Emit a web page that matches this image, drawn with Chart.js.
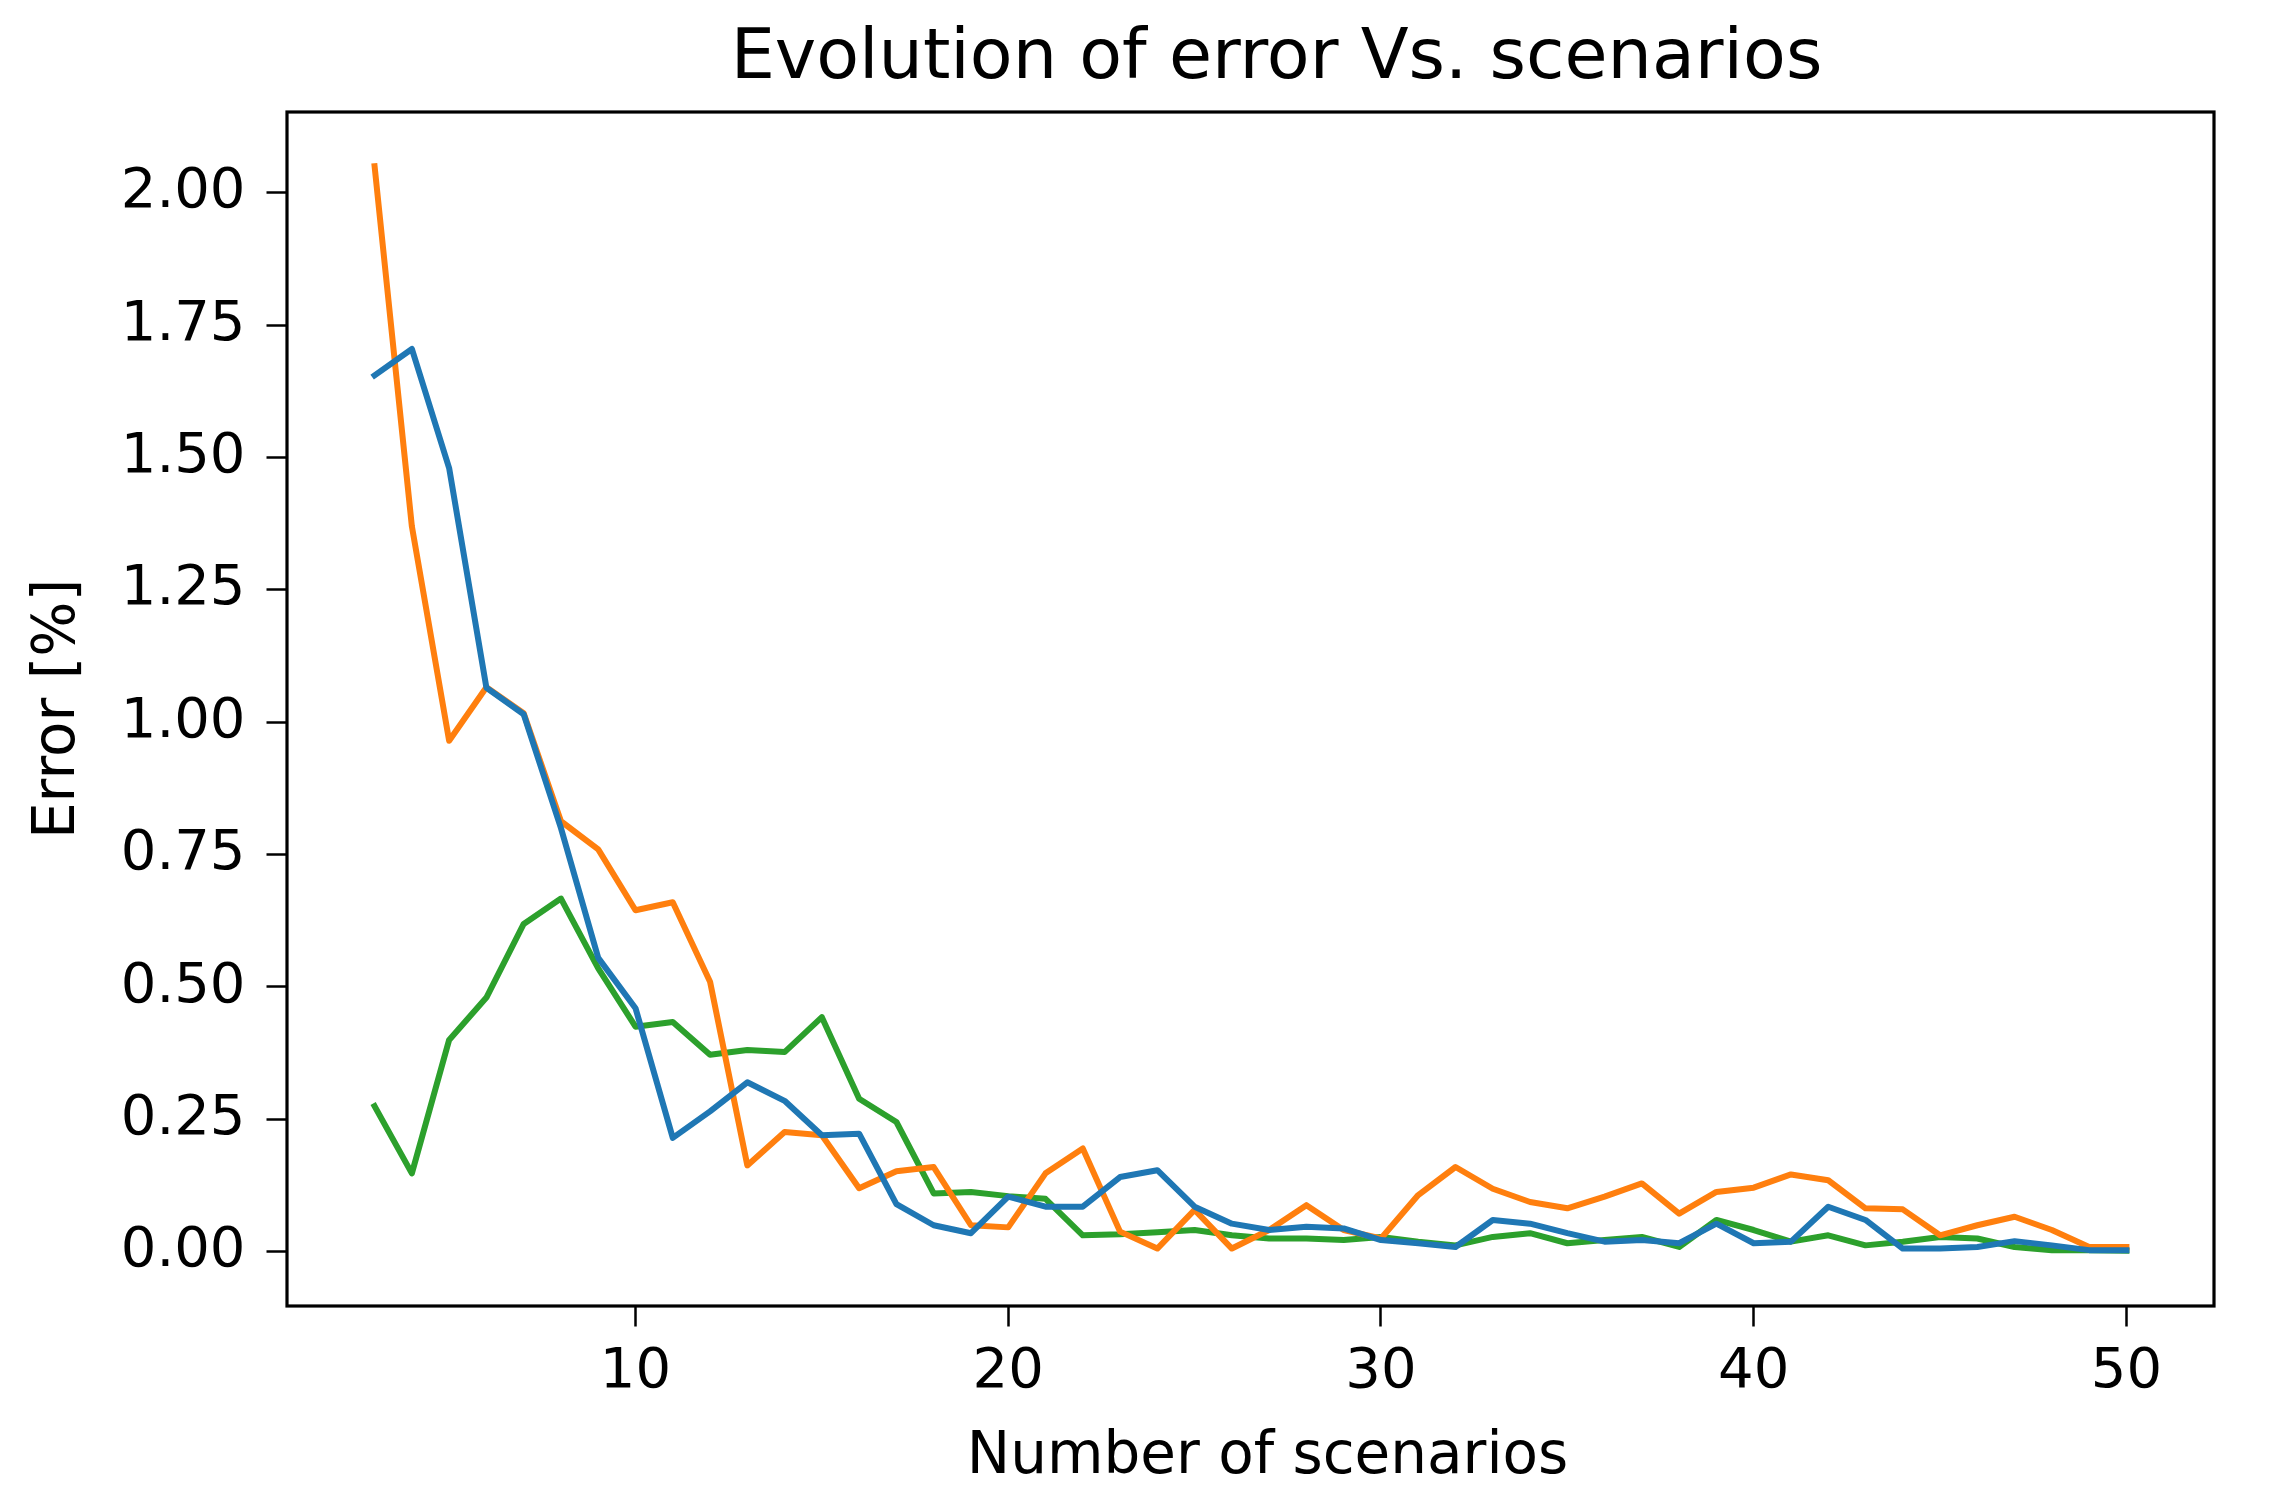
<!DOCTYPE html>
<html>
<head>
<meta charset="utf-8">
<script src="https://cdn.jsdelivr.net/npm/chart.js@4/dist/chart.umd.min.js"></script>
<style>
  html, body { margin: 0; padding: 0; background: #fff; }
  #wrap { width: 2282px; height: 1510px; }
</style>
</head>
<body>
<div id="wrap"><canvas id="myChart" width="2282" height="1510"></canvas></div>
<script>
const scenarios = [3, 4, 5, 6, 7, 8, 9, 10, 11, 12, 13, 14, 15, 16, 17, 18, 19, 20, 21, 22, 23, 24, 25, 26,
  27, 28, 29, 30, 31, 32, 33, 34, 35, 36, 37, 38, 39, 40, 41, 42, 43, 44, 45, 46, 47, 48, 49, 50];

const blueErr = [1.655, 1.705, 1.48, 1.065, 1.015, 0.80, 0.555, 0.46, 0.215, 0.265, 0.32, 0.285, 0.22, 0.223,
  0.09, 0.05, 0.035, 0.104, 0.085, 0.085, 0.141, 0.154, 0.085, 0.053, 0.041, 0.047, 0.044, 0.022, 0.016, 0.009,
  0.06, 0.053, 0.035, 0.019, 0.022, 0.016, 0.053, 0.016, 0.019, 0.085, 0.06, 0.006, 0.006, 0.009, 0.02, 0.012,
  0.003, 0.003];

const orangeErr = [2.05, 1.37, 0.965, 1.066, 1.017, 0.813, 0.76, 0.645, 0.66, 0.51, 0.163, 0.226, 0.22, 0.12,
  0.152, 0.16, 0.05, 0.046, 0.148, 0.195, 0.038, 0.006, 0.079, 0.006, 0.041, 0.088, 0.041, 0.025, 0.107, 0.16,
  0.119, 0.094, 0.082, 0.104, 0.129, 0.072, 0.113, 0.121, 0.146, 0.135, 0.082, 0.08, 0.031, 0.05, 0.066, 0.041,
  0.009, 0.009];

const greenErr = [0.275, 0.148, 0.40, 0.48, 0.619, 0.667, 0.535, 0.425, 0.434, 0.372, 0.381, 0.377, 0.443, 0.289,
  0.245, 0.11, 0.113, 0.105, 0.1, 0.031, 0.033, 0.037, 0.041, 0.031, 0.025, 0.025, 0.022, 0.028, 0.019, 0.012,
  0.028, 0.035, 0.016, 0.022, 0.028, 0.009, 0.06, 0.041, 0.019, 0.031, 0.012, 0.019, 0.028, 0.025, 0.009, 0.003,
  0.003, 0.002];

const chartTitle = 'Evolution of error Vs. scenarios';
const xTitle = 'Number of scenarios';
const yTitle = 'Error [%]';

const toPoints = (vals) => vals.map((y, i) => ({ x: scenarios[i], y: y }));

// black frame round the plot area (matplotlib spines) plus the two centred titles,
// which sit a little right of the plot centre in the original
const frame = {
  id: 'frame',
  afterDatasetsDraw(chart) {
    const { ctx, chartArea: a } = chart;
    ctx.save();
    ctx.strokeStyle = '#000';
    ctx.lineWidth = 3.2;
    ctx.strokeRect(a.left, a.top, a.right - a.left, a.bottom - a.top);
    ctx.restore();
  },
  afterDraw(chart) {
    const { ctx, chartArea: a } = chart;
    const mid = (a.left + a.right) / 2;
    ctx.save();
    ctx.fillStyle = '#000';
    ctx.textAlign = 'center';
    ctx.textBaseline = 'alphabetic';
    ctx.font = '70px "DejaVu Sans"';
    ctx.fillText(chartTitle, mid + 26, 78);
    ctx.font = '58px "DejaVu Sans"';
    ctx.fillText(xTitle, mid + 17, 1473);
    ctx.restore();
  }
};

const data = {
  datasets: [
    { label: "blue", data: toPoints(blueErr), borderColor: "#1f77b4" },
    { label: "orange", data: toPoints(orangeErr), borderColor: "#ff7f0e" },
    { label: "green", data: toPoints(greenErr), borderColor: "#2ca02c" },
  ],
};

const axisGrid = {
  drawOnChartArea: false,
  drawTicks: true,
  tickLength: 20.5,
  tickWidth: 2.5,
  tickColor: '#000',
  color: '#000',
};

const config = {
  type: "line",
  data: data,
  options: {
    responsive: false,
    animation: false,
    layout: { padding: { left: 0, right: 68, top: 112, bottom: 0 } },
    elements: {
      line: { borderWidth: 6, tension: 0, fill: false, borderCapStyle: 'square', borderJoinStyle: 'round' },
      point: { radius: 0, hoverRadius: 0 },
    },
    plugins: {
      legend: { display: false },
      tooltip: { enabled: false },
      title: { display: false },
    },
    scales: {
      x: {
        type: 'linear',
        min: 0.65,
        max: 52.35,
        grid: axisGrid,
        border: { display: false },
        ticks: {
          stepSize: 10,
          includeBounds: false,
          maxRotation: 0,
          color: '#000',
          padding: 12,
          font: { family: 'DejaVu Sans', size: 56, lineHeight: 1.2 },
        },
        afterFit(scale) { scale.height = 204; },
      },
      y: {
        min: -0.1025,
        max: 2.1525,
        grid: axisGrid,
        border: { display: false },
        ticks: {
          stepSize: 0.25,
          includeBounds: false,
          color: '#000',
          padding: 21,
          font: { family: 'DejaVu Sans', size: 56, lineHeight: 1.2 },
          callback: (v) => v.toFixed(2),
        },
        title: {
          display: true,
          text: yTitle,
          color: '#000',
          font: { family: 'DejaVu Sans', size: 58, lineHeight: 1.2 },
          padding: { top: 24, bottom: 0 },
        },
        afterFit(scale) { scale.width = 287; },
      },
    },
  },
  plugins: [frame],
};

const myChart = new Chart(document.getElementById("myChart"), config);
</script>
</body>
</html>
